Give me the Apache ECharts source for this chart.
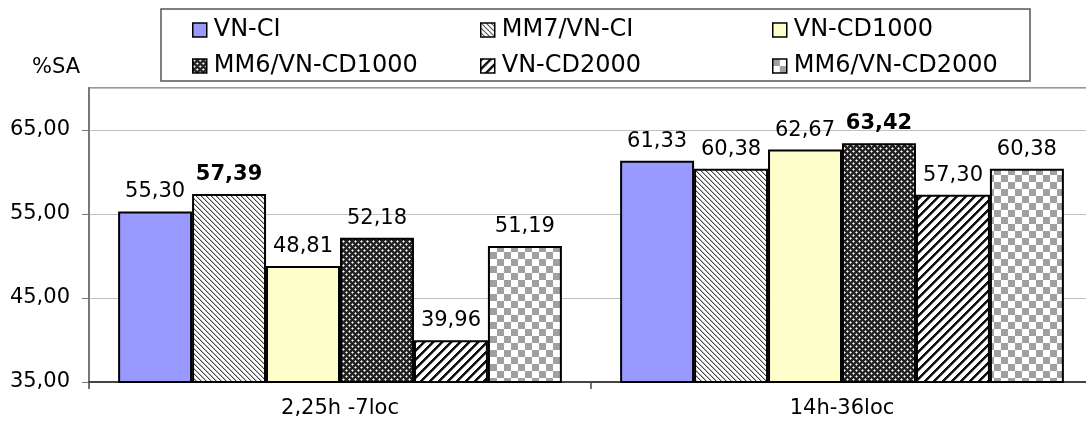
<!DOCTYPE html>
<html>
<head>
<meta charset="utf-8">
<script src="https://cdn.jsdelivr.net/npm/echarts@6/dist/echarts.min.js"></script>
<style>
  html, body { margin: 0; padding: 0; background: #fff; }
  #main { width: 1086px; height: 426px; }
</style>
</head>
<body>
<div id="main"></div>
<script>
// data
const categories = ["2,25h -7loc", "14h-36loc"];
const seriesNames = ["VN-CI", "MM7/VN-CI", "VN-CD1000", "MM6/VN-CD1000", "VN-CD2000", "MM6/VN-CD2000"];
const vnCi = [55.30, 61.33];
const mm7VnCi = [57.39, 60.38];
const vnCd1000 = [48.81, 62.67];
const mm6VnCd1000 = [52.18, 63.42];
const vnCd2000 = [39.96, 57.30];
const mm6VnCd2000 = [51.19, 60.38];
const yMin = 35, yMax = 70, yStep = 10;

const allValues = [vnCi, mm7VnCi, vnCd1000, mm6VnCd1000, vnCd2000, mm6VnCd2000];

// small tiles for the hatch fills
function tile(w, h, draw) {
  const c = document.createElement("canvas");
  c.width = w; c.height = h;
  const ctx = c.getContext("2d");
  ctx.fillStyle = "#fff";
  ctx.fillRect(0, 0, w, h);
  draw(ctx);
  return { image: c, repeat: "repeat" };
}

// fine "\" hatch
const fineHatch = tile(5, 5, ctx => {
  ctx.fillStyle = "#444";
  for (let i = 0; i < 5; i++) ctx.fillRect(i, i, 1, 1);
  ctx.fillStyle = "#bbb";
  for (let i = 0; i < 5; i++) ctx.fillRect((i + 1) % 5, i, 1, 1);
});

// dark dotted weave
const darkWeave = tile(6, 6, ctx => {
  ctx.fillStyle = "#222";
  ctx.fillRect(0, 0, 6, 6);
  ctx.fillStyle = "#fff";
  ctx.fillRect(1, 1, 1, 1);
  ctx.fillRect(4, 4, 1, 1);
  ctx.fillStyle = "#aaa";
  ctx.fillRect(0, 1, 1, 1); ctx.fillRect(2, 1, 1, 1); ctx.fillRect(1, 0, 1, 1); ctx.fillRect(1, 2, 1, 1);
  ctx.fillRect(3, 4, 1, 1); ctx.fillRect(5, 4, 1, 1); ctx.fillRect(4, 3, 1, 1); ctx.fillRect(4, 5, 1, 1);
});

// wide "/" stripes
const wideStripe = tile(9, 9, ctx => {
  ctx.fillStyle = "#111";
  for (let y = 0; y < 9; y++) {
    for (let k = 0; k < 3; k++) ctx.fillRect((8 - y + k) % 9, y, 1, 1);
  }
  ctx.fillStyle = "#888";
  for (let y = 0; y < 9; y++) ctx.fillRect((8 - y + 3) % 9, y, 1, 1);
});

// gray checkerboard
const checker = tile(14, 14, ctx => {
  ctx.fillStyle = "#a0a0a0";
  ctx.fillRect(0, 0, 7, 7);
  ctx.fillRect(7, 7, 7, 7);
});

const fills = ["#9999ff", fineHatch, "#ffffcc", darkWeave, wideStripe, checker];

function fmt(v) {
  return v.toFixed(2).replace(".", ",");
}

// highest bar of each group gets a bold label
const maxIndex = categories.map((c, ci) => {
  let best = 0;
  allValues.forEach((arr, si) => { if (arr[ci] > allValues[best][ci]) best = si; });
  return best;
});

const series = seriesNames.map((name, si) => ({
  name: name,
  type: "bar",
  barGap: "0%",
  barCategoryGap: "11.6%",
  itemStyle: { color: fills[si], borderColor: "#000", borderWidth: 2 },
  label: {
    show: true,
    position: "top",
    distance: 9,
    fontFamily: "DejaVu Sans",
    fontSize: 21,
    color: "#000",
    formatter: p => fmt(p.value)
  },
  data: allValues[si].map((v, ci) => ({
    value: v,
    label: { fontWeight: maxIndex[ci] === si ? "bold" : "normal" }
  }))
}));

// one legend per item so the two rows line up in columns
const legendCols = [192, 480, 772];
const legendRows = [18, 54];
const legends = seriesNames.map((name, i) => ({
  data: [{ name: name, icon: "rect" }],
  left: legendCols[i % 3],
  top: legendRows[Math.floor(i / 3)],
  padding: 0,
  itemWidth: 14,
  itemHeight: 14,
  selectedMode: false,
  itemStyle: { borderColor: "#000", borderWidth: 1.5 },
  textStyle: { fontFamily: "DejaVu Sans", fontSize: 24, color: "#000", padding: [0, 0, 0, 2] }
}));

let myChart = echarts.init(document.getElementById("main"), null, { renderer: "canvas" });

let option = {
  animation: false,
  backgroundColor: "#fff",
  legend: legends,
  graphic: [
    {
      type: "rect",
      shape: { x: 161, y: 9, width: 869, height: 72 },
      style: { fill: "none", stroke: "#555", lineWidth: 1.5 },
      z: -1
    }
  ],
  grid: {
    left: 89,
    width: 1004,
    top: 88,
    bottom: 44,
    outerBoundsMode: "none",
    containLabel: false,
    show: true,
    borderColor: "#999",
    borderWidth: 2,
    backgroundColor: "transparent"
  },
  xAxis: {
    type: "category",
    data: categories,
    axisLine: { lineStyle: { color: "#444", width: 2 } },
    axisTick: { show: true, length: 7, lineStyle: { color: "#444", width: 1.5 } },
    axisLabel: { fontFamily: "DejaVu Sans", fontSize: 21, color: "#000", margin: 16 }
  },
  yAxis: {
    type: "value",
    min: yMin,
    max: yMax,
    interval: yStep,
    name: "%SA",
    nameLocation: "end",
    nameGap: 10,
    nameTextStyle: { fontFamily: "DejaVu Sans", fontSize: 21, color: "#000", align: "right", padding: [0, 9, 0, 0] },
    axisLine: { show: true, lineStyle: { color: "#777", width: 2 } },
    axisTick: { show: true, length: 7, lineStyle: { color: "#777" } },
    axisLabel: {
      fontFamily: "DejaVu Sans",
      fontSize: 21,
      color: "#000",
      margin: 19,
      showMaxLabel: false,
      formatter: v => fmt(v)
    },
    splitLine: { lineStyle: { color: "#c0c0c0", width: 1 } }
  },
  series: series
};

myChart.setOption(option);
</script>
</body>
</html>
